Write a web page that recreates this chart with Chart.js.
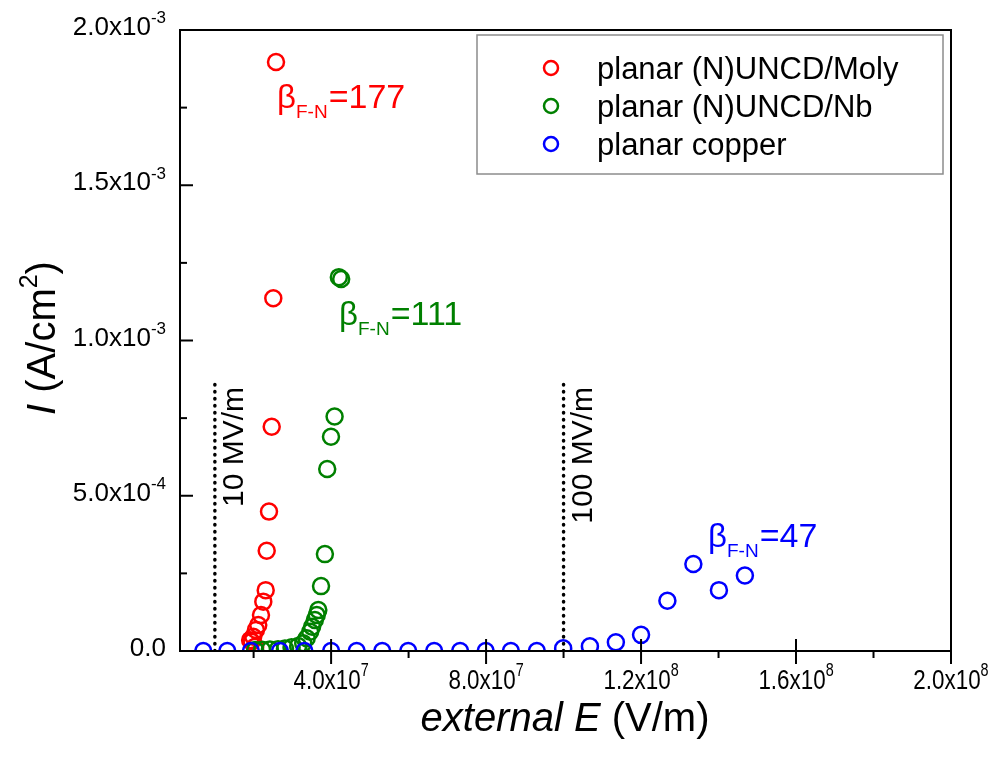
<!DOCTYPE html>
<html>
<head>
<meta charset="utf-8">
<script src="https://cdn.jsdelivr.net/npm/chart.js@4.4.0/dist/chart.umd.min.js"></script>
<style>
html, body { margin: 0; padding: 0; background: #fff; }
#wrap { width: 1005px; height: 757px; }
</style>
</head>
<body>
<div id="wrap"><canvas id="fnChart" width="1005" height="757"></canvas></div>
<script>
// planar (N)UNCD/Moly
var molyE = [2.578e7, 2.508e7, 2.467e7, 2.397e7, 2.338e7, 2.312e7, 2.250e7, 2.19e7, 2.12e7, 2.06e7, 1.99e7, 1.95e7, 1.91e7, 2.04e7];
var molyJ = [1.897e-3, 1.136e-3, 7.22e-4, 4.49e-4, 3.23e-4, 1.96e-4, 1.59e-4, 1.16e-4, 8.4e-5, 6.8e-5, 4.6e-5, 3.0e-5, 3.5e-5, 1.4e-5];

// planar (N)UNCD/Nb
var nbE = [4.20e7, 4.26e7, 4.09e7, 3.997e7, 3.90e7, 3.84e7, 3.74e7, 3.67e7, 3.63e7, 3.58e7, 3.51e7, 3.46e7, 3.37e7, 3.28e7, 3.15e7, 2.98e7, 2.81e7, 2.63e7, 2.42e7, 2.22e7, 2.04e7];
var nbJ = [1.204e-3, 1.198e-3, 7.55e-4, 6.90e-4, 5.86e-4, 3.12e-4, 2.09e-4, 1.32e-4, 1.16e-4, 1.0e-4, 7.8e-5, 6.2e-5, 4.1e-5, 2.5e-5, 1.6e-5, 1.2e-5, 8e-6, 6e-6, 5e-6, 4e-6, 3e-6];

// planar copper
var cuE = [7.0e6, 1.32e7, 1.93e7, 2.68e7, 3.31e7, 4.0e7, 4.66e7, 5.32e7, 5.99e7, 6.66e7, 7.33e7, 7.99e7, 8.64e7, 9.31e7, 9.99e7, 1.068e8, 1.135e8, 1.200e8, 1.268e8, 1.335e8, 1.401e8, 1.468e8];
var cuJ = [0, 0, 0, 0, 0, 0, 0, 0, 0, 0, 0, 0, 0, 0, 8.7e-6, 1.5e-5, 2.8e-5, 5.2e-5, 1.62e-4, 2.80e-4, 1.96e-4, 2.43e-4];

var seriesNames = ['planar (N)UNCD/Moly', 'planar (N)UNCD/Nb', 'planar copper'];
var betaText = ['=177', '=111', '=47'];

// axis ticks
var xTickValues = [4e7, 8e7, 1.2e8, 1.6e8, 2.0e8];
var xTickMant = ['4.0', '8.0', '1.2', '1.6', '2.0'];
var xTickExp = ['7', '7', '8', '8', '8'];
var xMinorValues = [2e7, 6e7, 1e8, 1.4e8, 1.8e8];
var yTickValues = [0, 5e-4, 1e-3, 1.5e-3, 2e-3];
var yTickMant = ['0.0', '5.0', '1.0', '1.5', '2.0'];
var yTickExp = ['', '-4', '-3', '-3', '-3'];
var yMinorValues = [2.5e-4, 7.5e-4, 1.25e-3, 1.75e-3];

// reference field lines
var markerE = [1e7, 1e8];
var markerTop = 8.6e-4;
var markerText = ['10 MV/m', '100 MV/m'];

var colors = ['#ff0000', '#008000', '#0000ff'];
var FONT = '"Liberation Sans", Arial, sans-serif';

function pts(xs, ys) {
    var out = [];
    for (var i = 0; i < xs.length; i++) out.push({ x: xs[i], y: ys[i] });
    return out;
}

// label like 4.0x10^7 ; sq squeezes horizontally
function expLabel(ctx, mant, exp, x, y, size, align, sq) {
    sq = sq || 1;
    var base = exp ? mant + 'x10' : mant;
    ctx.font = size + 'px ' + FONT;
    var w1 = ctx.measureText(base).width * sq;
    var small = Math.round(size * 0.64);
    ctx.font = small + 'px ' + FONT;
    var w2 = exp ? ctx.measureText(exp).width * sq : 0;
    var total = w1 + w2;
    var sx = align === 'right' ? x - total : (align === 'center' ? x - total / 2 : x);
    ctx.save();
    ctx.translate(sx, y);
    ctx.scale(sq, 1);
    ctx.font = size + 'px ' + FONT;
    ctx.fillText(base, 0, 0);
    if (exp) {
        ctx.font = small + 'px ' + FONT;
        ctx.fillText(exp, w1 / sq, -size * 0.45);
    }
    ctx.restore();
}

function betaLabel(ctx, txt, color, x, y) {
    ctx.fillStyle = color;
    ctx.font = '33px ' + FONT;
    ctx.fillText('\u03B2', x, y);
    var wb = ctx.measureText('\u03B2').width;
    ctx.font = '19px ' + FONT;
    ctx.fillText('F-N', x + wb, y + 10);
    var ws = ctx.measureText('F-N').width;
    ctx.font = '34px ' + FONT;
    ctx.fillText(txt, x + wb + ws + 1, y);
}

function line(ctx, x1, y1, x2, y2) {
    ctx.beginPath();
    ctx.moveTo(x1, y1);
    ctx.lineTo(x2, y2);
    ctx.stroke();
}

var decor = {
    id: 'decor',
    afterDraw: function(chart) {
        var ctx = chart.ctx;
        var xs = chart.scales.x, ys = chart.scales.y;
        var a = chart.chartArea;
        ctx.save();
        ctx.textBaseline = 'alphabetic';

        // frame
        ctx.strokeStyle = '#000';
        ctx.lineWidth = 2;
        ctx.strokeRect(a.left, a.top, a.right - a.left, a.bottom - a.top);

        // x ticks
        xTickValues.forEach(function(v, i) {
            var px = xs.getPixelForValue(v);
            line(ctx, px, a.bottom - 12, px, a.bottom + 13);
            ctx.fillStyle = '#000';
            expLabel(ctx, xTickMant[i], xTickExp[i], px, a.bottom + 38, 28, 'center', 0.8);
        });
        xMinorValues.forEach(function(v) {
            var px = xs.getPixelForValue(v);
            line(ctx, px, a.bottom, px, a.bottom + 7);
        });

        // y ticks
        yTickValues.forEach(function(v, i) {
            var py = ys.getPixelForValue(v);
            line(ctx, a.left, py, a.left + 13, py);
            ctx.fillStyle = '#000';
            expLabel(ctx, yTickMant[i], yTickExp[i], 166, py + 5, 26, 'right');
        });
        yMinorValues.forEach(function(v) {
            var py = ys.getPixelForValue(v);
            line(ctx, a.left, py, a.left + 7, py);
        });

        // axis titles
        ctx.fillStyle = '#000';
        ctx.font = 'italic 40px ' + FONT;
        var t1 = 'external E';
        var w1 = ctx.measureText(t1).width;
        ctx.font = '40px ' + FONT;
        var t2 = ' (V/m)';
        var w2 = ctx.measureText(t2).width;
        var sx = 565 - (w1 + w2) / 2;
        ctx.font = 'italic 40px ' + FONT;
        ctx.fillText(t1, sx, 731);
        ctx.font = '40px ' + FONT;
        ctx.fillText(t2, sx + w1, 731);

        ctx.save();
        ctx.translate(55, 338);
        ctx.rotate(-Math.PI / 2);
        ctx.font = 'italic 40px ' + FONT;
        var y1 = 'I';
        var wy1 = ctx.measureText(y1).width;
        ctx.font = '40px ' + FONT;
        var y2 = ' (A/cm';
        var wy2 = ctx.measureText(y2).width;
        var y4 = ')';
        var wy4 = ctx.measureText(y4).width;
        ctx.font = '25px ' + FONT;
        var wy3 = ctx.measureText('2').width;
        var ty = -(wy1 + wy2 + wy3 + wy4) / 2;
        ctx.font = 'italic 40px ' + FONT;
        ctx.fillText(y1, ty, 0);
        ctx.font = '40px ' + FONT;
        ctx.fillText(y2, ty + wy1, 0);
        ctx.font = '25px ' + FONT;
        ctx.fillText('2', ty + wy1 + wy2, -18);
        ctx.font = '40px ' + FONT;
        ctx.fillText(y4, ty + wy1 + wy2 + wy3, 0);
        ctx.restore();

        // field line labels
        markerE.forEach(function(v, i) {
            var px = xs.getPixelForValue(v);
            var py = ys.getPixelForValue(markerTop);
            ctx.save();
            ctx.translate(px + 28, py + 3);
            ctx.rotate(-Math.PI / 2);
            ctx.textAlign = 'right';
            ctx.fillStyle = '#000';
            ctx.font = '30px ' + FONT;
            ctx.fillText(markerText[i], 0, 0);
            ctx.restore();
        });

        // beta labels
        betaLabel(ctx, betaText[0], colors[0], 277, 108);
        betaLabel(ctx, betaText[1], colors[1], 339, 325);
        betaLabel(ctx, betaText[2], colors[2], 708, 547);

        // legend
        ctx.strokeStyle = '#8c8c8c';
        ctx.lineWidth = 1.5;
        ctx.strokeRect(477, 35, 466, 139);
        seriesNames.forEach(function(name, i) {
            var cy = 68 + i * 38;
            ctx.strokeStyle = colors[i];
            ctx.lineWidth = 2.5;
            ctx.beginPath();
            ctx.arc(551, cy, 7, 0, Math.PI * 2);
            ctx.stroke();
            ctx.fillStyle = '#000';
            ctx.font = '31px ' + FONT;
            ctx.fillText(name, 597, cy + 11);
        });

        ctx.restore();
    }
};

function markerLine(i) {
    return {
        type: 'line',
        data: [{ x: markerE[i], y: 0 }, { x: markerE[i], y: markerTop }],
        borderColor: '#000',
        borderWidth: 3.5,
        borderDash: [0.5, 6.5],
        borderCapStyle: 'round',
        pointRadius: 0,
        showLine: true,
        fill: false,
        order: 4
    };
}

function series(i, data, order) {
    return {
        label: seriesNames[i],
        data: data,
        borderColor: colors[i],
        backgroundColor: 'rgba(0,0,0,0)',
        borderWidth: 2.5,
        pointRadius: 8,
        pointHoverRadius: 8,
        pointStyle: 'circle',
        clip: 0,
        order: order
    };
}

new Chart(document.getElementById('fnChart'), {
    type: 'scatter',
    data: {
        datasets: [
            series(0, pts(molyE, molyJ), 2),
            series(1, pts(nbE, nbJ), 1),
            series(2, pts(cuE, cuJ), 0),
            markerLine(0),
            markerLine(1)
        ]
    },
    options: {
        responsive: false,
        devicePixelRatio: 1,
        animation: false,
        layout: { padding: { left: 180, right: 54, top: 30, bottom: 106 } },
        plugins: {
            legend: { display: false },
            tooltip: { enabled: false }
        },
        scales: {
            x: { type: 'linear', min: 1e6, max: 2e8, display: false },
            y: { type: 'linear', min: 0, max: 2e-3, display: false }
        }
    },
    plugins: [decor]
});
</script>
</body>
</html>
